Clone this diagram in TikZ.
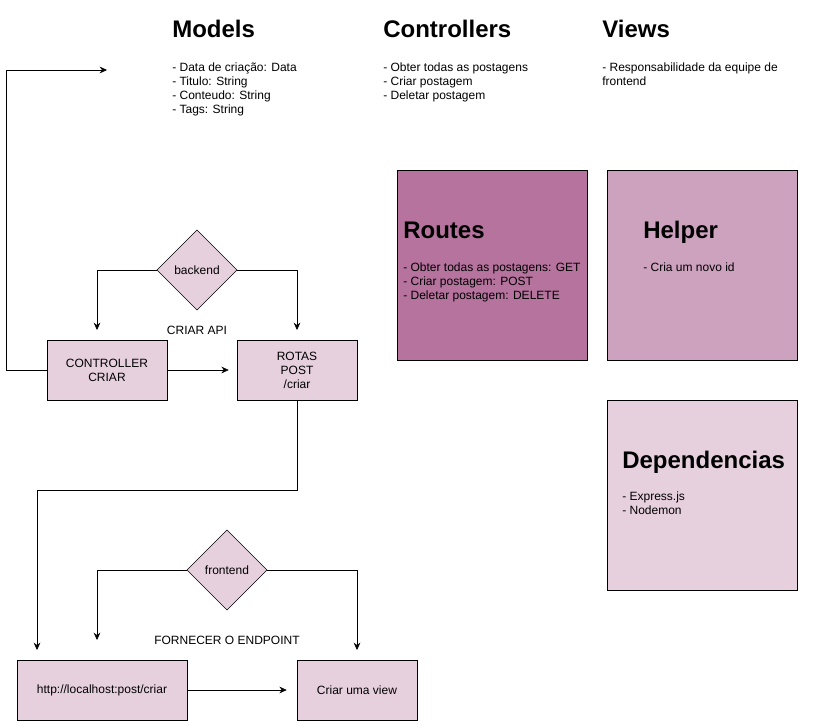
\documentclass[tikz,border=0pt]{standalone}
\usepackage{fontspec}
\setmainfont{Liberation Sans}
\usetikzlibrary{arrows.meta,shapes.geometric}
\definecolor{pinklight}{HTML}{E6D0DE}
\definecolor{pinkmid}{HTML}{CDA2BE}
\definecolor{pinkdark}{HTML}{B5739D}
\begin{document}
\begin{tikzpicture}[x=0.75pt,y=-0.75pt,
    txt/.style={font=\fontsize{9}{10.5}\selectfont},
    heading/.style={font=\fontsize{18}{21}\selectfont\bfseries,anchor=base west,inner sep=0pt},
    list/.style={txt,align=left,anchor=base west,inner sep=0pt},
    box/.style={txt,draw,fill=pinklight,align=center,minimum width=90pt,minimum height=45pt,inner sep=0pt},
    bigbox/.style={draw,minimum width=142.5pt,minimum height=142.5pt,inner sep=0pt},
    decision/.style={txt,draw,fill=pinklight,shape=diamond,minimum width=60pt,minimum height=60pt,inner sep=0pt},
    arr/.style={-{Stealth[length=5.5pt,width=5pt]}}]
      \useasboundingbox (0,0) rectangle (828,721) ;
      % lists are placed by the baseline of their last line
      \node[heading] (models) at (172,37) {Models} ;
      \node[list] (modelslist) at (172,113) {- Data de criação: Data\\- Titulo: String\\- Conteudo: String\\- Tags: String} ;
      \node[heading] (controllers) at (383,37) {Controllers} ;
      \node[list] (controllerslist) at (383,99) {- Obter todas as postagens\\- Criar postagem\\- Deletar postagem} ;
      \node[heading] (views) at (602,37) {Views} ;
      \node[list] (viewslist) at (602,85) {- Responsabilidade da equipe de\\frontend} ;
      \node[bigbox,fill=pinkdark] (routes) at (492,265) {} ;
      \node[heading] at (403,238) {Routes} ;
      \node[list] at (403,299) {- Obter todas as postagens: GET\\- Criar postagem: POST\\- Deletar postagem: DELETE} ;
      \node[bigbox,fill=pinkmid] (helper) at (702,265) {} ;
      \node[heading] at (643,238) {Helper} ;
      \node[list] at (643,271) {- Cria um novo id} ;
      \node[bigbox,fill=pinklight] (deps) at (702,495) {} ;
      \node[heading] at (622,468) {Dependencias} ;
      \node[list] at (622,514) {- Express.js\\- Nodemon} ;
      \node[decision] (backend) at (197,270) {backend} ;
      \node[txt] (criarapi) at (197,330) {CRIAR API} ;
      \node[box] (ctrl) at (107,370) {CONTROLLER\\CRIAR} ;
      \node[box] (rotas) at (297,370) {ROTAS\\POST\\/criar} ;
      \node[decision] (frontend) at (227,570) {frontend} ;
      \node[txt] (fornecer) at (227,640) {FORNECER O ENDPOINT} ;
      \node[box,minimum width=127.5pt] (local) at (102,690) {http://localhost:post/criar} ;
      \node[box] (view) at (357,690) {Criar uma view} ;
      \coordinate (modelsin) at (107,70) ;
      \coordinate (ctrlin) at (97,330) ;
      \coordinate (rotasin) at (297,330) ;
      \coordinate (localin) at (37,650) ;
      \coordinate (frontin) at (97,640) ;
      \coordinate (viewin) at (357,650) ;
      \draw[arr] (backend.west) -| (ctrlin) ;
      \draw[arr] (backend.east) -| (rotasin) ;
      \draw[arr,shorten >=6pt] (ctrl.east) -- (rotas.west) ;
      \draw[arr] (ctrl.west) -- ++(-40,0) |- (modelsin) ;
      \draw[arr] (rotas.south) -- ++(0,90) -| (localin) ;
      \draw[arr] (frontend.west) -| (frontin) ;
      \draw[arr] (frontend.east) -| (viewin) ;
      \draw[arr,shorten >=7.5pt] (local.east) -- (view.west) ;
    \end{tikzpicture}
\end{document}
